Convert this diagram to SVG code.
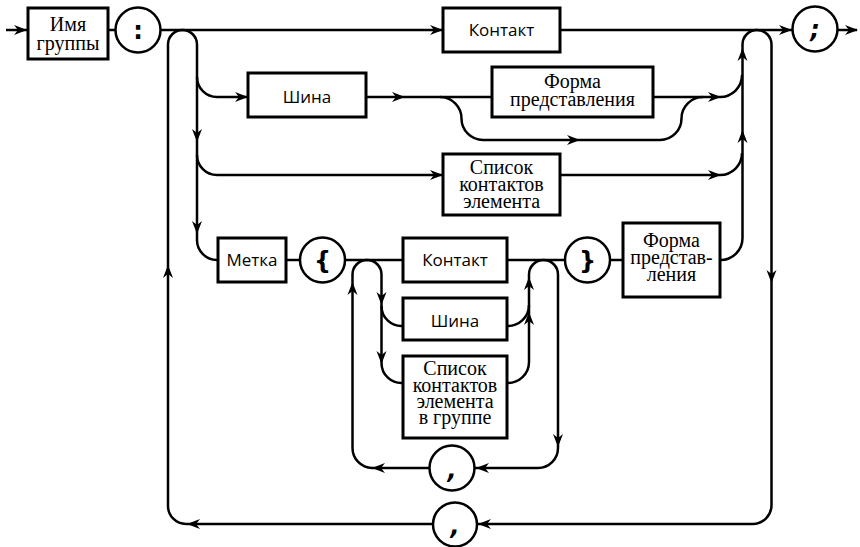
<svg xmlns="http://www.w3.org/2000/svg" xmlns:xlink="http://www.w3.org/1999/xlink" width="860" height="547" viewBox="0 0 860 547">
<style>
.bx{fill:#fff;stroke:#000;stroke-width:3}
.ci{fill:#fff;stroke:#000;stroke-width:2.5}
.ln{fill:none;stroke:#000;stroke-width:2.5}
</style>
<defs>
<path id="ah" d="M0,0 L-13,-5 L-9,0 L-13,5 Z" fill="#000"/>
</defs>
<rect width="860" height="547" fill="#fff"/>
<g id="connectors">
<path class="ln" d="M6,30 H27"/>
<path class="ln" d="M108,30 H116"/>
<path class="ln" d="M160,30 H443"/>
<path class="ln" d="M560,30 H792"/>
<path class="ln" d="M838,30 H857"/>
<path class="ln" d="M432,524 H186 A18,18 0 0 1 168,506 V44.5 A14.5,14.5 0 0 1 197,44.5 V240 A20,20 0 0 0 217,260 H218"/>
<path class="ln" d="M197,77 A20,20 0 0 0 217,97 H248"/>
<path class="ln" d="M197,155 A20,20 0 0 0 217,175 H443"/>
<path class="ln" d="M478,524 H753 A19,19 0 0 0 771.5,505 V44.5 A14.5,14.5 0 0 0 742.5,44.5 V238 A22,22 0 0 1 720.5,260"/>
<path class="ln" d="M653,97 H720 A22,22 0 0 0 742,75"/>
<path class="ln" d="M560,175 H720 A22,22 0 0 0 742,153"/>
<path class="ln" d="M366,97 H492"/>
<path class="ln" d="M440,97 A21.5,21.5 0 0 1 461.5,118.5 A21.5,21.5 0 0 0 483,140 H660 A21.5,21.5 0 0 0 681.5,118.5 A21.5,21.5 0 0 1 703,97"/>
<path class="ln" d="M286,260 H300"/>
<path class="ln" d="M345,260 H403"/>
<path class="ln" d="M507,260 H565"/>
<path class="ln" d="M610,260 H623"/>
<path class="ln" d="M429,468 H372 A20,20 0 0 1 352.5,448 V274.5 A14.5,14.5 0 0 1 381.5,274.5 V363 A20,20 0 0 0 403,383"/>
<path class="ln" d="M381.5,306 A20,20 0 0 0 403,326"/>
<path class="ln" d="M475,468 H538 A20,20 0 0 0 558,448 V274.5 A14.5,14.5 0 0 0 529,274.5 V362 A21,21 0 0 1 507,383"/>
<path class="ln" d="M507,326 A21,21 0 0 0 529,305"/>
<use xlink:href="#ah" transform="translate(27,30)"/>
<use xlink:href="#ah" transform="translate(443,30)"/>
<use xlink:href="#ah" transform="translate(792,30)"/>
<use xlink:href="#ah" transform="translate(858,30)"/>
<use xlink:href="#ah" transform="translate(248,97)"/>
<use xlink:href="#ah" transform="translate(405,97)"/>
<use xlink:href="#ah" transform="translate(580,140)"/>
<use xlink:href="#ah" transform="translate(443,175)"/>
<use xlink:href="#ah" transform="translate(721,97)"/>
<use xlink:href="#ah" transform="translate(721,175)"/>
<use xlink:href="#ah" transform="translate(197,142) rotate(90)"/>
<use xlink:href="#ah" transform="translate(197,234) rotate(90)"/>
<use xlink:href="#ah" transform="translate(168,265) rotate(-90)"/>
<use xlink:href="#ah" transform="translate(187,524) rotate(180)"/>
<use xlink:href="#ah" transform="translate(478,524) rotate(180)"/>
<use xlink:href="#ah" transform="translate(771.5,283) rotate(90)"/>
<use xlink:href="#ah" transform="translate(742.5,48) rotate(-90)"/>
<use xlink:href="#ah" transform="translate(742.5,130) rotate(-90)"/>
<use xlink:href="#ah" transform="translate(381.5,305) rotate(90)"/>
<use xlink:href="#ah" transform="translate(381.5,364) rotate(90)"/>
<use xlink:href="#ah" transform="translate(529,277) rotate(-90)"/>
<use xlink:href="#ah" transform="translate(529,312) rotate(-90)"/>
<use xlink:href="#ah" transform="translate(558,447) rotate(90)"/>
<use xlink:href="#ah" transform="translate(476,468) rotate(180)"/>
<use xlink:href="#ah" transform="translate(372,468) rotate(180)"/>
<use xlink:href="#ah" transform="translate(352.5,282) rotate(-90)"/>
</g>
<g id="n-imya" font-family="Liberation Serif, serif" font-size="20" text-anchor="middle"><rect class="bx" x="28" y="8" width="80" height="51"/><text x="68" y="31">Имя</text><text x="68" y="50">группы</text></g>
<g id="n-colon" font-family="DejaVu Sans, sans-serif" font-weight="bold" font-size="24" text-anchor="middle"><circle class="ci" cx="138" cy="30" r="22.5"/><text x="138" y="39">:</text></g>
<g id="n-kontakt" font-family="Open Sans, sans-serif" font-size="17" text-anchor="middle"><rect class="bx" x="443" y="8" width="117" height="44"/><text x="501.5" y="36">Контакт</text></g>
<g id="n-semicolon" font-family="DejaVu Sans, sans-serif" font-weight="bold" font-style="italic" font-size="24" text-anchor="middle"><circle class="ci" cx="815" cy="29" r="22.5"/><text x="815" y="38">;</text></g>
<g id="n-shina" font-family="Open Sans, sans-serif" font-size="17" text-anchor="middle"><rect class="bx" x="248" y="73" width="118" height="44"/><text x="307" y="103">Шина</text></g>
<g id="n-forma" font-family="Liberation Serif, serif" font-size="20" text-anchor="middle"><rect class="bx" x="492" y="67" width="161" height="50"/><text x="572.5" y="88">Форма</text><text x="572.5" y="106">представления</text></g>
<g id="n-spisok" font-family="Liberation Serif, serif" font-size="20" text-anchor="middle"><rect class="bx" x="443" y="154" width="117" height="61"/><text x="501.5" y="174">Список</text><text x="501.5" y="191">контактов</text><text x="501.5" y="208">элемента</text></g>
<g id="n-metka" font-family="Open Sans, sans-serif" font-size="17" text-anchor="middle"><rect class="bx" x="218" y="238" width="68" height="44"/><text x="252" y="266">Метка</text></g>
<g id="n-lbrace" font-family="DejaVu Sans, sans-serif" font-weight="bold" font-size="24" text-anchor="middle"><circle class="ci" cx="322.5" cy="260" r="22.5"/><text x="322.5" y="269">{</text></g>
<g id="n-kontakt2" font-family="Open Sans, sans-serif" font-size="17" text-anchor="middle"><rect class="bx" x="403" y="238" width="104" height="44"/><text x="455" y="266">Контакт</text></g>
<g id="n-rbrace" font-family="DejaVu Sans, sans-serif" font-weight="bold" font-size="24" text-anchor="middle"><circle class="ci" cx="587.5" cy="260" r="22.5"/><text x="587.5" y="269">}</text></g>
<g id="n-forma2" font-family="Liberation Serif, serif" font-size="20" text-anchor="middle"><rect class="bx" x="623" y="223" width="97" height="74"/><text x="671.5" y="247">Форма</text><text x="671.5" y="264">представ-</text><text x="671.5" y="281">ления</text></g>
<g id="n-shina2" font-family="Open Sans, sans-serif" font-size="17" text-anchor="middle"><rect class="bx" x="403" y="298" width="104" height="42"/><text x="455" y="327">Шина</text></g>
<g id="n-spisok2" font-family="Liberation Serif, serif" font-size="20" text-anchor="middle"><rect class="bx" x="403" y="356" width="104" height="82"/><text x="455" y="375">Список</text><text x="455" y="392">контактов</text><text x="455" y="408">элемента</text><text x="455" y="424">в группе</text></g>
<g id="n-comma1" font-family="DejaVu Sans, sans-serif" font-weight="bold" font-style="italic" font-size="24" text-anchor="middle"><circle class="ci" cx="452" cy="468" r="22.5"/><text x="452" y="478">,</text></g>
<g id="n-comma2" font-family="DejaVu Sans, sans-serif" font-weight="bold" font-style="italic" font-size="24" text-anchor="middle"><circle class="ci" cx="455" cy="524.5" r="22"/><text x="455" y="534">,</text></g>
</svg>
